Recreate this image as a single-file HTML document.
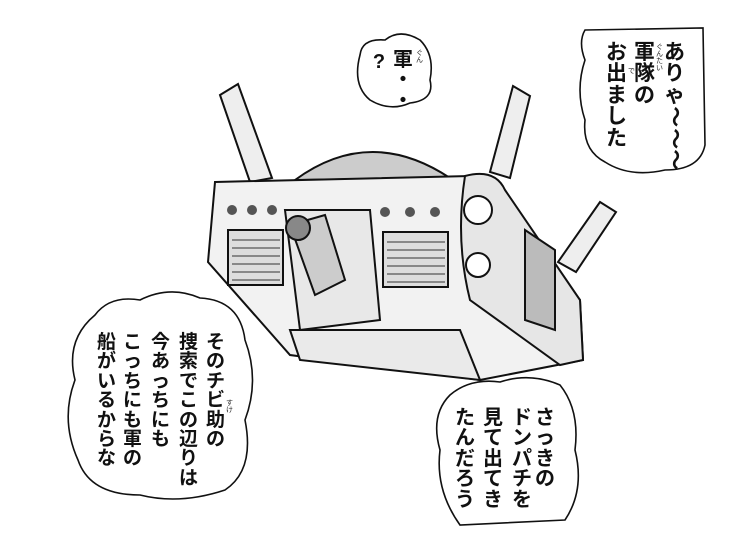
<!DOCTYPE html>
<html><head><meta charset="utf-8"><style>
body{margin:0;width:736px;height:552px;background:#fff;overflow:hidden;position:relative;font-family:"Noto Sans CJK JP","Liberation Sans",sans-serif}
.c{position:absolute;width:1.2em;margin-left:-0.1em;font-weight:bold;color:#111;line-height:1.02;text-align:center;font-family:"Liberation Sans","Noto Sans CJK JP",sans-serif}
.r{position:absolute;width:1em;font-size:7px;color:#222;line-height:1;font-family:"Liberation Sans","Noto Sans CJK JP",sans-serif}
.w{display:inline-block;transform:rotate(90deg)}
svg{position:absolute;left:0;top:0}
</style></head><body>
<svg width="736" height="552" viewBox="0 0 736 552">
<g stroke="#111" stroke-width="2" fill="#fff">
<path d="M220,95 L238,84 L272,178 L250,182 Z" fill="#eee"/>
<path d="M513,86 L530,96 L510,178 L490,172 Z" fill="#eee"/>
<path d="M600,202 L616,212 L576,272 L558,262 Z" fill="#eee"/>
<path d="M295,180 Q370,125 450,178 Z" fill="#ccc"/>
<path d="M215,182 L470,176 L580,300 L583,360 L480,380 L290,355 L208,262 Z" fill="#f2f2f2"/>
<path d="M465,176 Q495,168 505,190 L580,300 L583,360 L560,365 L470,300 Q455,240 465,176 Z" fill="#e6e6e6"/>
<rect x="228" y="230" width="55" height="55" fill="#ddd"/>
<rect x="383" y="232" width="65" height="55" fill="#ddd"/>
<path d="M285,210 L370,210 L380,320 L300,330 Z" fill="#e8e8e8"/>
<path d="M290,225 L325,215 L345,280 L315,295 Z" fill="#ccc"/>
<circle cx="298" cy="228" r="12" fill="#888"/>
<path d="M290,330 L460,330 L480,380 L300,360 Z" fill="#eaeaea"/>
<path d="M525,230 L555,250 L555,330 L525,320 Z" fill="#bbb"/>
<circle cx="478" cy="210" r="14"/>
<circle cx="478" cy="265" r="12"/>
</g>
<g stroke="#333" stroke-width="1">
<path d="M232,240h48M232,248h48M232,256h48M232,264h48M232,272h48M232,280h48M387,242h58M387,250h58M387,258h58M387,266h58M387,274h58M387,282h58"/>
</g>
<g fill="#555"><circle cx="232" cy="210" r="5"/><circle cx="252" cy="210" r="5"/><circle cx="272" cy="210" r="5"/><circle cx="385" cy="212" r="5"/><circle cx="410" cy="212" r="5"/><circle cx="435" cy="212" r="5"/></g>
<g stroke="#111" stroke-width="1.6" fill="#fff">
<path d="M585,30 L703,28 L705,145 Q700,170 665,170 Q630,178 605,162 Q582,150 585,120 Q575,90 585,60 Q578,42 585,30 Z"/>
<path d="M360,55 Q362,38 385,40 Q400,28 420,40 Q435,55 430,80 Q435,100 410,103 Q390,112 370,100 Q352,85 360,55 Z"/>
<path d="M95,315 Q110,295 140,300 Q170,285 200,298 Q240,300 245,340 Q260,380 245,420 Q255,470 225,490 Q180,505 140,495 Q90,495 78,460 Q60,420 75,380 Q65,340 95,315 Z"/>
<path d="M450,395 Q470,378 500,382 Q530,372 560,385 Q580,410 575,450 Q585,490 565,520 L460,525 Q435,490 440,450 Q430,415 450,395 Z"/>
</g>
</svg>
<div class="c" style="left:664px;top:42px;font-size:21px">あ<br>り<br>ゃ<br><span class="w">〜</span><br><span class="w">〜</span><br><span class="w">〜</span></div>
<div class="c" style="left:634px;top:42px;font-size:21px">軍<br>隊<br>の</div>
<div class="c" style="left:606px;top:42px;font-size:21px">お<br>出<br>ま<br>し<br>た</div>
<div class="r" style="left:656px;top:44px">ぐ<br>ん<br>た<br>い</div>
<div class="r" style="left:628px;top:68px">で</div>
<div class="c" style="left:369px;top:52px;font-size:20px">?</div>
<div class="c" style="left:393px;top:50px;font-size:20px">軍<br>・<br>・</div>
<div class="r" style="left:416px;top:50px">ぐ<br>ん</div>
<div class="c" style="left:206px;top:333px;font-size:19px">そ<br>の<br>チ<br>ビ<br>助<br>の</div>
<div class="c" style="left:179px;top:333px;font-size:19px">捜<br>索<br>で<br>こ<br>の<br>辺<br>り<br>は</div>
<div class="c" style="left:151px;top:333px;font-size:19px">今<br>あ<br>っ<br>ち<br>に<br>も</div>
<div class="c" style="left:123px;top:333px;font-size:19px">こ<br>っ<br>ち<br>に<br>も<br>軍<br>の</div>
<div class="c" style="left:97px;top:333px;font-size:19px">船<br>が<br>い<br>る<br>か<br>ら<br>な</div>
<div class="r" style="left:226px;top:400px">す<br>け</div>
<div class="c" style="left:535px;top:408px;font-size:20px">さ<br>っ<br>き<br>の</div>
<div class="c" style="left:512px;top:408px;font-size:20px">ド<br>ン<br>パ<br>チ<br>を</div>
<div class="c" style="left:483px;top:408px;font-size:20px">見<br>て<br>出<br>て<br>き</div>
<div class="c" style="left:455px;top:408px;font-size:20px">た<br>ん<br>だ<br>ろ<br>う</div>
</body></html>
